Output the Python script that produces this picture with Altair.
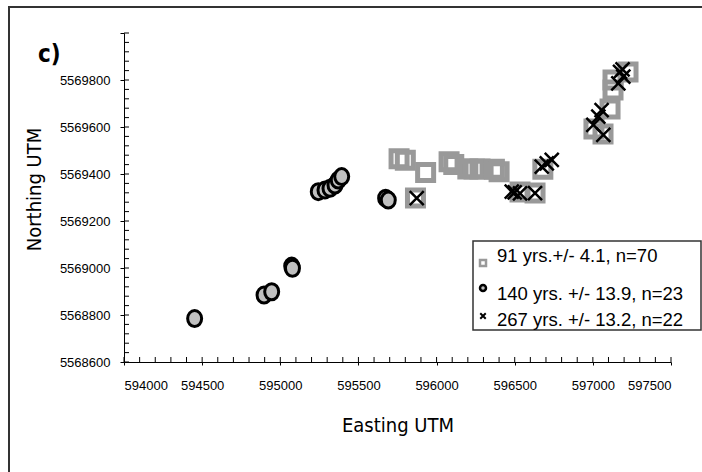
import altair as alt
import pandas as pd

# Stand locations (UTM easting / northing) for the three age classes
sq_east = [595760, 595800, 595930, 596080, 596110, 596200, 596240, 596278,
           596370, 596400, 595865, 596534, 596630, 596680, 597225, 597129,
           597129, 597110, 597007, 597065]
sq_north = [5569465, 5569458, 5569406, 5569452, 5569440, 5569421, 5569421, 5569421,
            5569420, 5569410, 5569298, 5569323, 5569319, 5569420, 5569834, 5569800,
            5569757, 5569677, 5569591, 5569570]

circ_east = [594452, 594896, 594945, 595073, 595078, 595243, 595286, 595318,
             595350, 595371, 595393, 595674, 595691]
circ_north = [5568785, 5568885, 5568899, 5569008, 5568999, 5569325, 5569332, 5569339,
              5569353, 5569374, 5569389, 5569297, 5569289]

x_east = [595873, 596481, 596500, 596534, 596630, 596673, 596705, 596737,
          597174, 597195, 597163, 597190, 597056, 597035, 597003, 597067]
x_north = [5569297, 5569325, 5569322, 5569318, 5569319, 5569431, 5569445, 5569460,
           5569835, 5569814, 5569786, 5569845, 5569672, 5569644, 5569609, 5569566]

legend_labels = ["91 yrs.+/- 4.1, n=70",
                 "140 yrs. +/- 13.9, n=23",
                 "267 yrs. +/- 13.2, n=22"]

x_ticks = [594000, 594500, 595000, 595500, 596000, 596500, 597000, 597500]
y_ticks = [5568600, 5568800, 5569000, 5569200, 5569400, 5569600, 5569800, 5570000]
x_minor = list(range(594000, 597501, 100))
y_minor = list(range(5568600, 5570001, 40))

df = pd.concat([
    pd.DataFrame({"east": sq_east, "north": sq_north, "grp": "sq"}),
    pd.DataFrame({"east": circ_east, "north": circ_north, "grp": "circ"}),
    pd.DataFrame({"east": x_east, "north": x_north, "grp": "x"}),
])

W, H = 547, 329
XDOM = [594000, 597500]
YDOM = [5568600, 5570000]
xs = alt.Scale(domain=XDOM, nice=False, zero=False)
ys = alt.Scale(domain=YDOM, nice=False, zero=False)

TICK_FONT = "Liberation Sans, Arial"
TITLE_FONT = "Liberation Sans Narrow, Arial Narrow, DejaVu Sans Condensed, Liberation Sans"

x_axis = alt.Axis(orient="bottom", values=x_ticks, format="d", tickSize=3,
                  tickColor="black", domainColor="black", labelFont=TICK_FONT,
                  labelFontSize=13, labelColor="black", labelPadding=14, grid=False,
                  title="Easting UTM", titleFont=TITLE_FONT, titleFontSize=20,
                  titleFontWeight="normal", titleColor="black",
                  titleBaseline="alphabetic", titleY=69)
y_axis = alt.Axis(orient="left", values=y_ticks, format="d", tickSize=4,
                  tickColor="black", domainColor="black", labelFont=TICK_FONT,
                  labelFontSize=13, labelColor="black", labelPadding=10, grid=False,
                  labelExpr="datum.value >= 5570000 ? '' : datum.label",
                  title="Northing UTM", titleFont=TITLE_FONT, titleFontSize=20,
                  titleFontWeight="normal", titleColor="black",
                  titleAngle=270, titleBaseline="alphabetic", titleAlign="center",
                  titleX=-84, titleY=156)

X = alt.X("east:Q", scale=xs, axis=x_axis)
Y = alt.Y("north:Q", scale=ys, axis=y_axis)

base = alt.Chart(df)

squares = base.transform_filter(alt.datum.grp == "sq").mark_point(
    shape="square", filled=False, stroke="#999999", strokeWidth=5, size=256, opacity=1
).encode(x=X, y=Y)

ellipse = "M0,-1A0.875,1 0 1,1 0,1A0.875,1 0 1,1 0,-1Z"
circles = base.transform_filter(alt.datum.grp == "circ").mark_point(
    shape=ellipse, filled=True, fill="#c0c0c0", stroke="black", strokeWidth=3,
    size=256, opacity=1
).encode(x=X, y=Y)

cross = "M-1,-1L1,1M1,-1L-1,1"
crosses = base.transform_filter(alt.datum.grp == "x").mark_point(
    shape=cross, filled=False, stroke="black", strokeWidth=2.5, size=196, opacity=1
).encode(x=X, y=Y)

# Inward-pointing minor ticks along both axis lines
minor_x_ticks = alt.Chart(pd.DataFrame({"east": x_minor})).mark_tick(
    orient="vertical", size=5, thickness=1, color="black", opacity=1
).encode(x=X, y=alt.value(H - 2.5))

minor_y_ticks = alt.Chart(pd.DataFrame({"north": y_minor})).mark_tick(
    orient="horizontal", size=5, thickness=1, color="black", opacity=1
).encode(y=Y, x=alt.value(2.5))

one = alt.Data(values=[{}])

frame = alt.Chart(one).mark_rect(fill=None, stroke="#333333", strokeWidth=2).encode(
    x=alt.value(-115), x2=alt.value(600), y=alt.value(-26), y2=alt.value(460)
)

panel_tag = alt.Chart(one).mark_text(
    text="c)", font=TITLE_FONT, fontSize=24, fontWeight="bold", align="left",
    baseline="alphabetic", color="black"
).encode(x=alt.value(-86), y=alt.value(29))

# Legend box drawn inside the plot's lower right
leg_box = alt.Chart(one).mark_rect(fill="white", stroke="#333333", strokeWidth=1.5).encode(
    x=alt.value(349), x2=alt.value(577), y=alt.value(208), y2=alt.value(297)
)
leg_sq = alt.Chart(one).mark_point(shape="square", filled=False, stroke="#999999",
                                   strokeWidth=2.5, size=36, opacity=1).encode(
    x=alt.value(359), y=alt.value(230))
leg_circ = alt.Chart(one).mark_point(shape="circle", filled=True, fill="#c0c0c0",
                                     stroke="black", strokeWidth=2.5, size=36,
                                     opacity=1).encode(
    x=alt.value(359), y=alt.value(255))
leg_x = alt.Chart(one).mark_point(shape=cross, filled=False, stroke="black",
                                  strokeWidth=2, size=30, opacity=1).encode(
    x=alt.value(359), y=alt.value(283))

leg_texts = []
for label, base_y in zip(legend_labels, [229, 267, 293]):
    leg_texts.append(
        alt.Chart(one).mark_text(text=label, font=TICK_FONT, fontSize=18.5, align="left",
                                 baseline="alphabetic", color="black").encode(
            x=alt.value(373), y=alt.value(base_y))
    )

chart = alt.layer(
    frame, circles, squares, crosses, minor_x_ticks, minor_y_ticks, panel_tag,
    leg_box, leg_sq, leg_circ, leg_x, *leg_texts
).properties(
    width=W, height=H,
    autosize=alt.AutoSizeParams(type="none"),
    padding={"left": 124, "top": 33, "right": 31, "bottom": 110},
    background="white",
).configure_view(stroke=None)

chart.save("out.html", embed_options={"renderer": "svg", "actions": False})
